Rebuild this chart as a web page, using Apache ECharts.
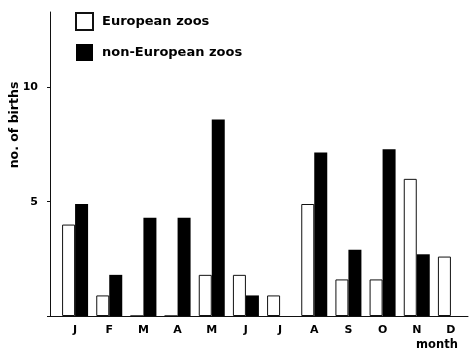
<!DOCTYPE html>
<html>
<head>
<meta charset="utf-8">
<script src="https://cdn.jsdelivr.net/npm/echarts@6/dist/echarts.min.js"></script>
<style>
html,body{margin:0;padding:0;background:#fff;}
#chart{width:469px;height:351px;}
</style>
</head>
<body>
<div id="chart"></div>
<script>
var months = ['J','F','M','A','M','J','J','A','S','O','N','D'];
var european = [4.0, 0.9, 0, 0, 1.8, 1.8, 0.9, 4.9, 1.6, 1.6, 6.0, 2.6];
var nonEuropean = [4.9, 1.8, 4.3, 4.3, 8.6, 0.9, 0, 7.15, 2.9, 7.3, 2.7, 0];
var seriesNames = ['European zoos', 'non-European zoos'];
var yTickLabels = {5: '5', 10: '10'};

var FONT = 'DejaVu Sans';
var chart = echarts.init(document.getElementById('chart'), null, {renderer: 'canvas'});
chart.setOption({
  backgroundColor: '#fff',
  animation: false,
  textStyle: {fontFamily: FONT, color: '#000'},
  legend: {
    orient: 'vertical',
    left: 75, top: 12, padding: 0,
    itemWidth: 17, itemHeight: 17, itemGap: 13,
    icon: 'rect',
    textStyle: {fontFamily: FONT, fontWeight: 'bold', fontSize: 13, color: '#000', padding: [0,0,0,4]},
    data: seriesNames
  },
  grid: {left: 58, right: 1, top: 12, bottom: 35, containLabel: false},
  xAxis: {
    type: 'category',
    data: months,
    axisLine: {lineStyle: {color: '#111', width: 1}},
    axisTick: {show: false},
    axisLabel: {fontFamily: FONT, fontWeight: 'bold', fontSize: 11, color: '#000', margin: 9}
  },
  yAxis: {
    type: 'value',
    min: 0, max: 13.3, interval: 5,
    offset: 8,
    splitLine: {show: false},
    axisLine: {show: true, lineStyle: {color: '#111', width: 1}},
    axisTick: {show: true, length: 3, lineStyle: {color: '#111'}},
    axisLabel: {
      fontFamily: FONT, fontWeight: 'bold', fontSize: 11, color: '#000', margin: 12,
      showMaxLabel: false,
      formatter: function (v) { return yTickLabels[v] || ''; }
    }
  },
  graphic: [
    {type: 'text', x: 15, y: 125, rotation: Math.PI / 2,
     style: {text: 'no. of births', fontFamily: FONT, fontWeight: 'bold', fontSize: 12.5, fill: '#000', textAlign: 'center', textVerticalAlign: 'middle'}},
    {type: 'text', x: 437, y: 345,
     style: {text: 'month', fontFamily: FONT, fontWeight: 'bold', fontSize: 11.5, fill: '#000', textAlign: 'center', textVerticalAlign: 'middle'}},
    {type: 'line', shape: {x1: 50, y1: 316.5, x2: 58, y2: 316.5}, style: {stroke: '#111', lineWidth: 1}}
  ],
  series: [
    {
      name: seriesNames[0], type: 'bar', data: european,
      barWidth: 13, barGap: '0%',
      itemStyle: {color: '#fff', borderColor: '#111', borderWidth: 1}
    },
    {
      name: seriesNames[1], type: 'bar', data: nonEuropean,
      barWidth: 13, barGap: '0%',
      itemStyle: {color: '#000', borderColor: '#000', borderWidth: 0}
    }
  ]
});
</script>
</body>
</html>
